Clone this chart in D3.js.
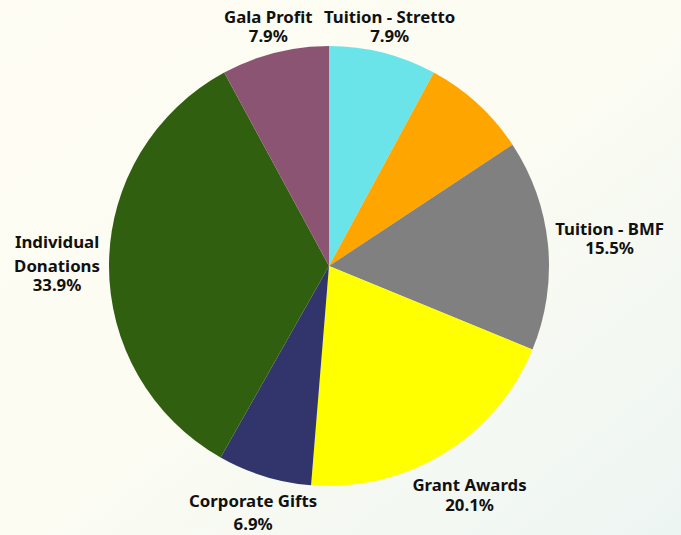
<!DOCTYPE html>
<html>
<head>
<meta charset="utf-8">
<script src="https://cdn.jsdelivr.net/npm/d3@7"></script>
<style>
  html, body { margin: 0; padding: 0; overflow: hidden; }
  text { font-family: "Noto Sans", sans-serif; font-weight: 700; fill: #111; }
</style>
</head>
<body>
<div id="viz"></div>
<script>
// Slice data, clockwise from 12 o'clock
var categories = ["Tuition - Stretto", "Other", "Tuition - BMF", "Grant Awards", "Corporate Gifts", "Individual Donations", "Gala Profit"];
var shares = [7.9, 7.8, 15.5, 20.1, 6.9, 33.9, 7.9];
var colors = ["#6ae4e8", "#fea500", "#808080", "#ffff00", "#31356b", "#315f10", "#8b5472"];
// label text lines (empty = no label shown)
var labelLines = [["Tuition - Stretto"], [], ["Tuition - BMF"], ["Grant Awards"], ["Corporate Gifts"], ["Individual", "Donations"], ["Gala Profit"]];

// layout
var width = 681, height = 535;
var cx = 329, cy = 266, radius = 220;
var labelRadius = [247, 0, 282, 269, 258, 272, 247];
// baseline offsets of each line from the first one
var lineOffsets = [[0, 19], [], [0, 19], [0, 20], [0, 23], [0, 24, 43], [0, 19]];
var capH = 12;

var svg = d3.select("#viz")
  .append("svg")
    .attr("width", width)
    .attr("height", height);

// background gradient, cream to pale mint
var defs = svg.append("defs");
var grad = defs.append("linearGradient")
    .attr("id", "bg")
    .attr("x1", "0").attr("y1", "0")
    .attr("x2", "1").attr("y2", "1");
grad.append("stop").attr("offset", "0%").attr("stop-color", "#fffdf3");
grad.append("stop").attr("offset", "50%").attr("stop-color", "#fcfcf2");
grad.append("stop").attr("offset", "100%").attr("stop-color", "#edf5f3");

svg.append("rect")
  .attr("width", width)
  .attr("height", height)
  .attr("fill", "url(#bg)");

var g = svg.append("g")
  .attr("transform", "translate(" + cx + "," + cy + ")");

var pie = d3.pie()
  .sort(null)
  .value(function(d) { return d; });

var arcs = pie(shares);

var arc = d3.arc()
  .innerRadius(0)
  .outerRadius(radius);

g.selectAll("path")
  .data(arcs)
  .enter().append("path")
    .attr("d", arc)
    .attr("fill", function(d, i) { return colors[i]; });

// labels - name lines then the percent
arcs.forEach(function(d, i) {
  if (labelLines[i].length == 0) return;
  var lines = labelLines[i].concat([d3.format(".1f")(shares[i]) + "%"]);
  var la = d3.arc().innerRadius(labelRadius[i]).outerRadius(labelRadius[i]);
  var p = la.centroid(d);
  var offs = lineOffsets[i];
  var span = offs[offs.length - 1];
  // first baseline so the block is vertically centred on p
  var y0 = p[1] - (span - capH) / 2;
  var t = g.append("text")
    .attr("text-anchor", "middle")
    .style("font-size", "16.8px");
  lines.forEach(function(s, k) {
    t.append("tspan")
      .attr("x", p[0])
      .attr("y", y0 + offs[k])
      .text(s);
  });
});
</script>
</body>
</html>
